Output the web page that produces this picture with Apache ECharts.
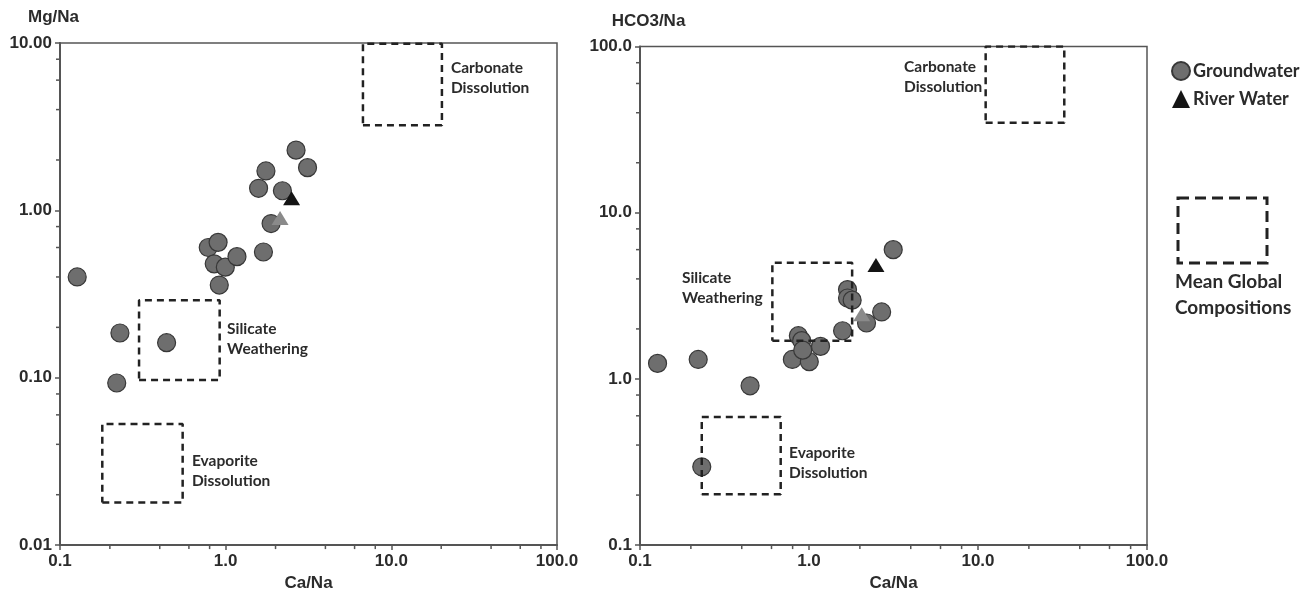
<!DOCTYPE html>
<html>
<head>
<meta charset="utf-8">
<title>Ca/Na mixing diagrams</title>
<script src="https://cdn.jsdelivr.net/npm/echarts@6/dist/echarts.min.js"></script>
<style>
  html, body { margin: 0; padding: 0; background: #fff; }
  #chart { width: 1303px; height: 597px; }
</style>
</head>
<body>
<div id="chart"></div>
<script>
// ---- Mg/Na vs Ca/Na ----
const gwCaNaMg = [0.127, 0.23, 0.22, 0.44, 0.915, 0.785, 0.90, 0.853, 0.995, 1.17, 1.69, 1.88, 1.58, 1.75, 2.20, 2.66, 3.12];
const gwMgNa   = [0.40, 0.185, 0.093, 0.162, 0.358, 0.60, 0.644, 0.479, 0.458, 0.529, 0.564, 0.834, 1.355, 1.72, 1.31, 2.29, 1.80];
const rwCaNaMg = [2.50, 2.13];
const rwMgNa   = [1.18, 0.90];

// ---- HCO3/Na vs Ca/Na ----
const gwCaNaHco3 = [0.127, 0.221, 0.448, 0.232, 0.797, 1.004, 0.865, 0.905, 0.918, 1.17, 1.58, 1.69, 1.69, 1.80, 2.19, 2.69, 3.15];
const gwHco3Na   = [1.24, 1.31, 0.909, 0.296, 1.31, 1.27, 1.82, 1.70, 1.49, 1.57, 1.95, 3.45, 3.07, 2.98, 2.17, 2.53, 6.0];
const rwCaNaHco3 = [2.49, 2.05];
const rwHco3Na   = [4.85, 2.45];

// Mean global end-member compositions: [Ca/Na min, Ca/Na max, ratio min, ratio max]
const regionNames = ['Carbonate\nDissolution', 'Silicate\nWeathering', 'Evaporite\nDissolution'];
const mgRegions   = [[6.74, 20.2, 3.23, 9.9], [0.30, 0.92, 0.097, 0.29], [0.18, 0.55, 0.018, 0.053]];
const hco3Regions = [[11.1, 32.4, 34.8, 100], [0.607, 1.80, 1.70, 5.0], [0.232, 0.68, 0.2025, 0.59]];
// Where each region's caption starts (left edge, vertical middle)
const mgRegionLabelAt   = [[22.9, 6.2], [1.02, 0.17], [0.626, 0.0278]];
const hco3RegionLabelAt = [[3.65, 65.2], [0.177, 3.51], [0.762, 0.313]];

// Tick labels
const caNaTicks = ['0.1', '1.0', '10.0', '100.0'];
const mgNaTicks = ['0.01', '0.10', '1.00', '10.00'];
const hco3Ticks = ['0.1', '1.0', '10.0', '100.0'];
// Minor tick positions (2, 4, 6, 8 in each decade)
const minorCaNa = [0.2, 0.4, 0.6, 0.8, 2, 4, 6, 8, 20, 40, 60, 80];
const minorMgNa = [0.02, 0.04, 0.06, 0.08, 0.2, 0.4, 0.6, 0.8, 2, 4, 6, 8];
const minorHco3 = [0.2, 0.4, 0.6, 0.8, 2, 4, 6, 8, 20, 40, 60, 80];

const AXIS_COLOR = '#555';
const TEXT_COLOR = '#2b2b2b';
const tickFont = { fontFamily: '"Liberation Sans", Arial, sans-serif', fontWeight: 'bold', fontSize: 17, color: TEXT_COLOR };
const noteFont = { fontFamily: 'Lato, "Open Sans", sans-serif', fontWeight: 'bold', color: TEXT_COLOR };

const zip = (xs, ys) => xs.map((x, i) => [x, ys[i]]);
const decadeLabel = (labels, min) => v => labels[Math.round(Math.log10(v) - Math.log10(min))] || '';

function logAxis(gridIndex, min, max, labels, extra, namePad) {
  return Object.assign({
    gridIndex, type: 'log', logBase: 10, min, max,
    splitLine: { show: false },
    axisLine: { lineStyle: { color: AXIS_COLOR, width: 2 } },
    axisTick: { length: 5, lineStyle: { color: AXIS_COLOR, width: 1.5 } },
    axisLabel: Object.assign({ margin: 8, formatter: decadeLabel(labels, min) }, tickFont),
    nameTextStyle: Object.assign({ padding: namePad || 0 }, tickFont)
  }, extra);
}

function scatterSeries(name, idx, data, style, size, symbol, z) {
  return {
    name, type: 'scatter', xAxisIndex: idx, yAxisIndex: idx,
    symbol, symbolSize: size, data, z,
    itemStyle: style
  };
}

function regionSeries(idx, regions) {
  return regions.map(b => ({
    type: 'line', xAxisIndex: idx, yAxisIndex: idx, z: 4, silent: true,
    symbol: 'none',
    lineStyle: { color: '#222', width: 2.5, type: [7, 5] },
    data: [[b[0], b[2]], [b[1], b[2]], [b[1], b[3]], [b[0], b[3]], [b[0], b[2]]]
  }));
}

function regionLabels(idx, positions) {
  return {
    type: 'scatter', xAxisIndex: idx, yAxisIndex: idx, z: 5, silent: true,
    symbolSize: 0, clip: false,
    itemStyle: { opacity: 1 },
    data: positions.map((p, i) => ({ value: p, name: regionNames[i] })),
    label: Object.assign({
      show: true, position: 'right', distance: 0, align: 'left',
      fontSize: 15.5, lineHeight: 20, formatter: p => p.name
    }, noteFont)
  };
}

function minorTicks(idx, xs, yMin, ys, xMin) {
  const common = { type: 'scatter', xAxisIndex: idx, yAxisIndex: idx, symbol: 'rect', clip: false, silent: true, z: 1, itemStyle: { color: AXIS_COLOR, opacity: 1 } };
  return [
    Object.assign({ data: xs.map(v => [v, yMin]), symbolSize: [1.5, 4], symbolOffset: [0, 2] }, common),
    Object.assign({ data: ys.map(v => [xMin, v]), symbolSize: [4, 1.5], symbolOffset: [-2, 0] }, common)
  ];
}

const gwStyle = { color: '#6e6e6e', borderColor: '#383838', borderWidth: 1.2, opacity: 1 };
const rwStyle = { color: '#141414', opacity: 1 };
const rwPoints = (xs, ys) => zip(xs, ys).map((p, i) => i === 0 ? p : { value: p, itemStyle: { color: '#8a8a8a' } });

const option = {
  animation: false,
  backgroundColor: '#fff',
  grid: [
    { left: 60, top: 43, width: 497, height: 507, show: true, borderColor: AXIS_COLOR, borderWidth: 1.5, backgroundColor: 'transparent' },
    { left: 640, top: 46.6, width: 507, height: 506, show: true, borderColor: AXIS_COLOR, borderWidth: 1.5, backgroundColor: 'transparent' }
  ],
  xAxis: [
    logAxis(0, 0.1, 100, caNaTicks, { name: 'Ca/Na', nameLocation: 'middle', nameGap: 23 }),
    logAxis(1, 0.1, 100, caNaTicks, { name: 'Ca/Na', nameLocation: 'middle', nameGap: 23 })
  ],
  yAxis: [
    logAxis(0, 0.01, 10, mgNaTicks, { name: 'Mg/Na', nameLocation: 'end', nameGap: 17 }, [0, 13, 0, 0]),
    logAxis(1, 0.1, 100, hco3Ticks, { name: 'HCO3/Na', nameLocation: 'end', nameGap: 17 }, [0, 0, 0, 17])
  ],
  legend: {
    data: ['Groundwater', 'River Water'],
    orient: 'vertical', left: 1166, top: 56,
    itemWidth: 18, itemHeight: 18, itemGap: 9,
    textStyle: Object.assign({ fontSize: 18, padding: [0, 0, 0, -2] }, noteFont)
  },
  graphic: [
    { type: 'rect', shape: { x: 1178, y: 198, width: 89, height: 65 }, style: { fill: 'none', stroke: '#222', lineWidth: 3, lineDash: [11, 6] } },
    { type: 'text', x: 1175, y: 282, style: Object.assign({ text: 'Mean Global', fontSize: 19, verticalAlign: 'middle', fill: TEXT_COLOR }, noteFont) },
    { type: 'text', x: 1175, y: 308, style: Object.assign({ text: 'Compositions', fontSize: 19, verticalAlign: 'middle', fill: TEXT_COLOR }, noteFont) }
  ],
  series: [
    ...minorTicks(0, minorCaNa, 0.01, minorMgNa, 0.1),
    ...minorTicks(1, minorCaNa, 0.1, minorHco3, 0.1),
    scatterSeries('Groundwater', 0, zip(gwCaNaMg, gwMgNa), gwStyle, 18, 'circle', 2),
    scatterSeries('River Water', 0, rwPoints(rwCaNaMg, rwMgNa), rwStyle, [17, 14], 'triangle', 3),
    scatterSeries('Groundwater', 1, zip(gwCaNaHco3, gwHco3Na), gwStyle, 18, 'circle', 2),
    scatterSeries('River Water', 1, rwPoints(rwCaNaHco3, rwHco3Na), rwStyle, [17, 14], 'triangle', 3),
    ...regionSeries(0, mgRegions),
    ...regionSeries(1, hco3Regions),
    regionLabels(0, mgRegionLabelAt),
    regionLabels(1, hco3RegionLabelAt)
  ]
};

const chart = echarts.init(document.getElementById('chart'), null, { renderer: 'canvas' });
chart.setOption(option);
</script>
</body>
</html>
